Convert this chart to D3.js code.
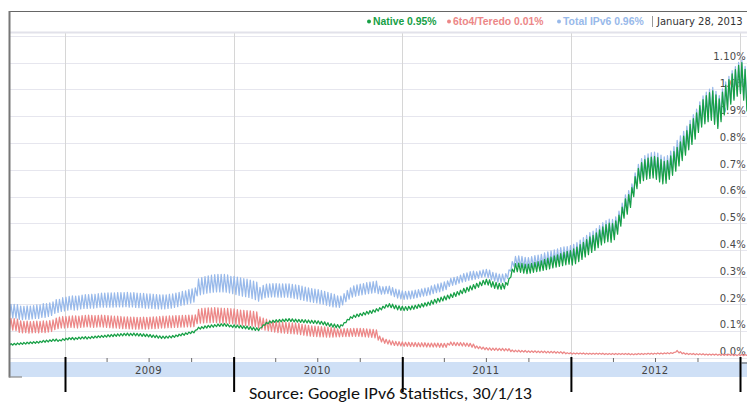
<!DOCTYPE html>
<html>
<head>
<meta charset="utf-8">
<script src="https://cdn.jsdelivr.net/npm/d3@7"></script>
<style>
  html, body { margin: 0; padding: 0; background: #fff; overflow: hidden; }
  svg { display: block; }
</style>
</head>
<body>
<svg id="chart" width="747" height="402"></svg>
<script>
// Weekly IPv6 adoption (thousandths of a percent), one weekday and one weekend reading per week,
// weeks starting Monday 2008-09-01.
const firstWeek = "2008-09-01";

const nativeWeekday = [
  45,46,47,48,49,50,51,52,53,54,
  56,57,58,60,61,60,62,64,66,67,
  66,68,69,70,69,71,72,73,74,75,
  76,77,78,79,80,81,82,81,82,81,
  80,79,78,77,75,74,72,71,71,72,
  73,75,78,81,83,86,89,92,104,106,
  108,110,112,113,115,116,117,116,114,112,
  111,110,108,107,105,103,101,100,112,121,
  126,129,131,132,133,134,135,134,133,132,
  131,130,129,128,127,126,124,122,119,116,
  113,111,110,118,130,140,146,150,153,156,
  159,162,165,169,173,178,184,188,186,182,
  178,176,175,176,178,180,183,186,189,192,
  195,199,203,207,211,215,219,224,228,233,
  238,242,247,252,257,262,268,272,270,263,
  258,255,254,256,270,300,318,320,318,315,
  313,315,318,320,322,325,328,331,334,337,
  340,343,346,348,345,350,358,366,375,384,
  392,400,410,420,428,432,430,440,460,490,
  520,535,560,600,630,650,660,665,668,670,
  665,655,648,650,665,680,695,715,735,755,
  775,795,815,840,860,872,880,885,870,855,
  880,905,925,945,960,975,985,960,920,940,
  950
];
const nativeWeekend = [
  52,53,54,55,56,57,58,59,60,61,
  64,65,66,68,69,66,70,72,74,75,
  74,76,77,78,77,79,80,81,82,83,
  85,86,87,88,89,90,91,90,91,90,
  89,88,87,86,84,83,81,80,80,81,
  82,84,87,90,92,95,98,101,113,115,
  118,120,122,123,125,126,127,125,121,122,
  121,120,118,117,115,113,111,110,122,131,
  136,139,141,142,143,144,145,144,143,142,
  142,141,140,139,138,137,135,133,130,127,
  125,123,122,130,142,152,158,162,165,168,
  172,175,178,182,186,191,197,201,199,195,
  193,191,190,191,193,195,198,201,204,207,
  213,217,221,225,229,233,237,242,246,251,
  258,262,267,272,277,282,288,292,290,283,
  280,277,277,280,294,330,350,352,351,348,
  348,351,355,358,361,366,371,375,379,383,
  388,392,396,399,405,412,421,430,440,450,
  456,465,476,487,496,501,500,510,531,561,
  592,608,634,675,706,727,738,744,748,750,
  746,738,732,735,752,768,784,805,826,847,
  870,891,913,940,962,977,988,995,980,965,
  990,1016,1037,1058,1074,1090,1100,1075,1035,1055,
  1065
];
const tunnelWeekday = [
  104,102,100,94,92,93,91,92,93,92,
  94,93,95,97,104,108,110,110,111,112,
  111,110,112,113,114,113,112,113,114,113,
  112,111,110,110,109,108,108,107,107,106,
  106,107,106,107,108,108,109,110,110,111,
  111,112,112,113,113,114,114,115,126,128,
  129,130,130,131,130,129,128,128,127,126,
  124,122,121,120,119,117,115,110,106,102,
  99,97,95,93,92,91,90,89,88,87,
  85,83,81,80,79,78,77,77,76,76,
  76,77,77,78,78,78,79,79,79,78,
  77,76,75,73,65,58,53,50,47,45,
  44,43,42,42,41,41,40,40,40,39,
  39,39,39,38,38,38,46,45,44,44,
  43,42,41,38,35,33,31,29,28,27,
  27,26,26,25,25,22,21,21,20,20,
  19,19,19,18,18,18,17,17,17,16,
  16,15,14,14,13,13,13,13,12,12,
  12,12,12,12,11,11,11,11,11,11,
  11,11,10,10,11,11,11,12,12,12,
  13,13,13,14,14,15,20,17,14,12,
  11,11,10,10,10,9,9,9,9,8,
  8,8,8,8,7,7,7,7,8,8,
  8
];
const tunnelWeekend = [
  146,145,143,137,135,136,134,135,136,135,
  137,136,138,140,147,151,153,153,154,155,
  155,154,156,157,158,157,156,157,158,157,
  156,155,154,154,153,152,152,151,151,150,
  150,151,150,151,152,152,153,154,154,155,
  155,156,156,157,157,158,158,159,180,183,
  184,185,185,186,185,184,183,183,182,181,
  179,177,176,175,174,172,170,152,147,143,
  139,137,135,133,132,131,130,129,128,127,
  124,122,120,118,117,116,115,114,113,112,
  111,107,107,108,108,108,109,109,109,108,
  107,106,105,103,80,73,68,65,62,60,
  59,58,57,57,56,56,55,55,55,54,
  54,54,54,53,53,53,58,57,56,56,
  55,54,53,50,43,41,39,37,36,35,
  35,34,34,33,33,28,27,27,26,26,
  25,25,25,24,24,24,23,23,23,22,
  22,21,18,18,17,17,17,17,16,16,
  16,16,16,16,15,15,15,15,15,15,
  15,15,14,14,15,15,15,16,16,16,
  17,17,17,18,18,19,26,22,18,16,
  15,15,14,14,14,13,13,13,13,12,
  12,12,12,12,11,11,11,11,12,12,
  12
];

const yTicks = [0, 0.1, 0.2, 0.3, 0.4, 0.5, 0.6, 0.7, 0.8, 0.9, 1.0, 1.1, 1.2];
const yTickLabels = ["0.0%", "0.1%", "0.2%", "0.3%", "0.4%", "0.5%", "0.6%", "0.7%", "0.8%", "0.9%", "1.0%", "1.10%"];
const yearLabels = ["2009", "2010", "2011", "2012"];
const yearBounds = ["2009-01-01", "2010-01-01", "2011-01-01", "2012-01-01", "2013-01-01"];

const legendNames = ["Native", "6to4/Teredo", "Total IPv6"];
const legendValues = ["0.95%", "0.01%", "0.96%"];
const legendDate = "January 28, 2013";
const sourceNote = "Source: Google IPv6 Statistics, 30/1/13";

const colors = { native: "#17a046", tunnel: "#ec8787", total: "#98b9ea" };

// ---------------------------------------------------------------------------
const parse = d3.utcParse("%Y-%m-%d");
const start = parse(firstWeek);
const W = 747;

const svg = d3.select("#chart");

const x = d3.scaleUtc()
  .domain([parse(yearBounds[0]), parse(yearBounds[yearBounds.length - 1])])
  .range([65, 740]);
const y = d3.scaleLinear().domain([0, 1.2]).range([357.5, 35.9]);

// weekday reading mid-week, weekend reading on Saturday
function weekly(weekday, weekend) {
  const pts = [];
  weekday.forEach((v, i) => {
    pts.push({ date: d3.utcDay.offset(start, 7 * i + 2), v: v / 1000 });
    pts.push({ date: d3.utcDay.offset(start, 7 * i + 5), v: weekend[i] / 1000 });
  });
  return pts;
}
const nativePts = weekly(nativeWeekday, nativeWeekend);
const tunnelPts = weekly(tunnelWeekday, tunnelWeekend);
const totalPts = nativePts.map((p, i) => ({ date: p.date, v: p.v + tunnelPts[i].v }));

const plotLeft = 10, plotTop = 33, plotBottom = 358;

// horizontal gridlines
svg.append("g").selectAll("line").data(yTicks).join("line")
  .attr("x1", plotLeft).attr("x2", W)
  .attr("y1", d => Math.round(y(d)) + 0.5).attr("y2", d => Math.round(y(d)) + 0.5)
  .attr("stroke", "#e6e6ee").attr("stroke-width", 1.2);

// vertical year gridlines
svg.append("g").selectAll("line").data(yearBounds).join("line")
  .attr("x1", d => Math.round(x(parse(d))) + 0.5).attr("x2", d => Math.round(x(parse(d))) + 0.5)
  .attr("y1", plotTop).attr("y2", plotBottom)
  .attr("stroke", "#d6d6d6").attr("stroke-width", 1);

// header band
svg.append("line").attr("x1", plotLeft).attr("x2", W).attr("y1", 32.5).attr("y2", 32.5)
  .attr("stroke", "#e2e2ea").attr("stroke-width", 2);

// y axis labels (inside the plot, right side)
const yAxis = d3.axisLeft(y)
  .tickValues(yTicks.slice(0, yTickLabels.length))
  .tickFormat((d, i) => yTickLabels[i])
  .tickSize(0).tickPadding(0);
const yg = svg.append("g").attr("transform", `translate(${W - 1},0)`).call(yAxis);
yg.select(".domain").remove();
yg.selectAll("text")
  .attr("dy", "-0.28em")
  .attr("fill", "#4a4a4a")
  .style("font-family", "'DejaVu Sans', Verdana, sans-serif")
  .style("font-size", "10px")
  .style("letter-spacing", "0.2px");

// series
const line = d3.line().x(d => x(d.date)).y(d => y(d.v));
[[totalPts, colors.total], [tunnelPts, colors.tunnel], [nativePts, colors.native]].forEach(([pts, c]) => {
  svg.append("path").datum(pts)
    .attr("d", line)
    .attr("fill", "none")
    .attr("stroke", c)
    .attr("stroke-width", 1.25)
    .attr("stroke-linejoin", "round");
});

// time axis band
svg.append("rect").attr("x", plotLeft).attr("y", 362).attr("width", W - plotLeft).attr("height", 15)
  .attr("fill", "#cfe0f6");

const xAxis = d3.axisBottom(x)
  .ticks(d3.utcMonth.every(3))
  .tickFormat("")
  .tickSizeOuter(0)
  .tickSize(4);
const xg = svg.append("g").attr("transform", `translate(0,${plotBottom})`).call(xAxis);
xg.select(".domain").remove();
xg.selectAll("line").attr("stroke", "#6a6a6a");

svg.append("g").selectAll("text").data(yearLabels).join("text")
  .attr("x", d => x(d3.utcMonth.offset(parse(d + "-01-01"), 6)))
  .attr("y", 373.5)
  .attr("text-anchor", "middle")
  .attr("fill", "#444")
  .style("font-family", "'DejaVu Sans', Verdana, sans-serif")
  .style("font-size", "10px")
  .style("letter-spacing", "0.4px")
  .text(d => d);

// frame
svg.append("line").attr("x1", 9).attr("x2", W).attr("y1", 11.5).attr("y2", 11.5)
  .attr("stroke", "#666").attr("stroke-width", 1);
svg.append("line").attr("x1", 9.5).attr("x2", 9.5).attr("y1", 11).attr("y2", 377.5)
  .attr("stroke", "#777").attr("stroke-width", 2);
svg.append("line").attr("x1", 9).attr("x2", 22).attr("y1", 377).attr("y2", 377)
  .attr("stroke", "#8a8a8a").attr("stroke-width", 1.2);

// year markers below the axis
svg.append("g").selectAll("line").data(yearBounds).join("line")
  .attr("x1", d => x(parse(d)) + 0.5).attr("x2", d => x(parse(d)) + 0.5)
  .attr("y1", 357).attr("y2", 392)
  .attr("stroke", "#000").attr("stroke-width", 2);
svg.append("line").attr("x1", x(parse(yearBounds[4])) + 1).attr("x2", W).attr("y1", 363).attr("y2", 363)
  .attr("stroke", "#555").attr("stroke-width", 1);

// legend
const legendStarts = [367, 447, 557];
const legendColors = [colors.native, colors.tunnel, colors.total];
const lg = svg.append("g").style("font-family", "'Liberation Sans', Arial, sans-serif");
legendNames.forEach((n, i) => {
  lg.append("circle").attr("cx", legendStarts[i] + 2).attr("cy", 21.5).attr("r", 2)
    .attr("fill", legendColors[i]);
  lg.append("text").attr("x", legendStarts[i] + 6).attr("y", 25.3)
    .attr("fill", legendColors[i])
    .style("font-size", "10.4px").style("font-weight", "bold")
    .text(`${n} ${legendValues[i]}`);
});
lg.append("line").attr("x1", 652.5).attr("x2", 652.5).attr("y1", 16).attr("y2", 27)
  .attr("stroke", "#999").attr("stroke-width", 1);
lg.append("text").attr("x", 657).attr("y", 25.3)
  .attr("fill", "#333")
  .style("font-family", "'DejaVu Sans', Verdana, sans-serif")
  .style("font-size", "10px")
  .text(legendDate);

// source note
svg.append("text")
  .attr("x", 249).attr("y", 398.5)
  .attr("textLength", 283).attr("lengthAdjust", "spacingAndGlyphs")
  .attr("fill", "#111")
  .style("font-family", "Carlito, 'Liberation Sans', sans-serif")
  .style("font-size", "15.5px")
  .text(sourceNote);
</script>
</body>
</html>
